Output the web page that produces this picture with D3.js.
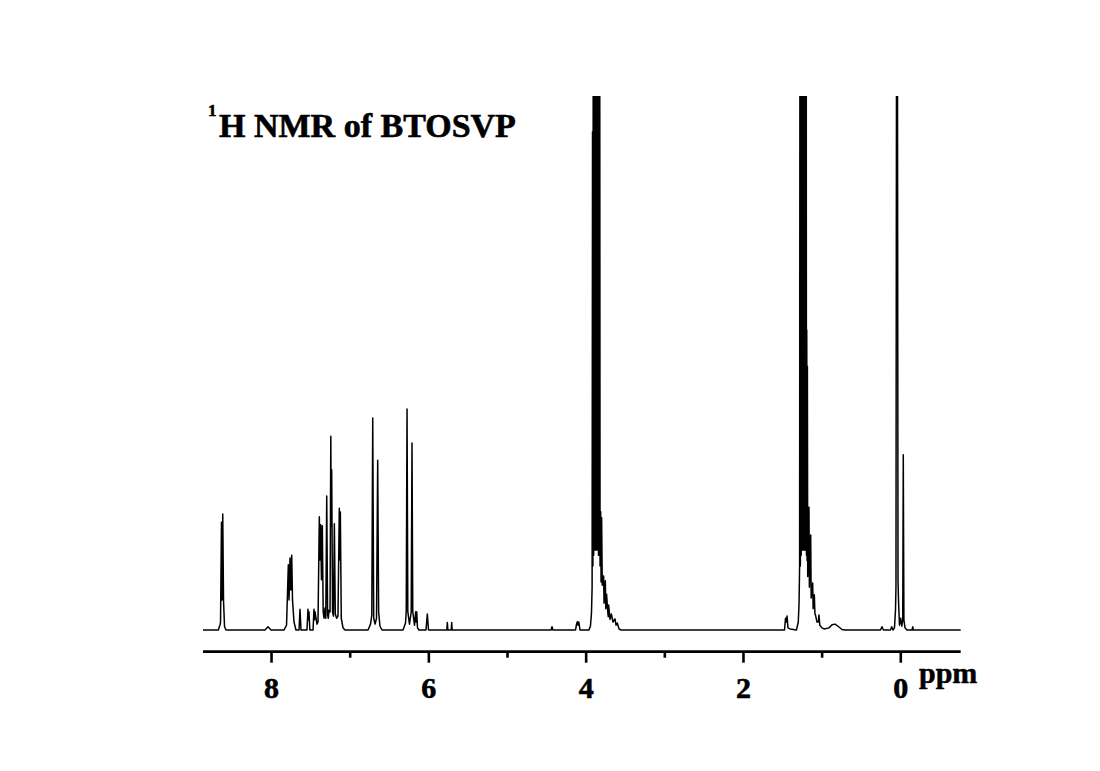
<!DOCTYPE html>
<html>
<head>
<meta charset="utf-8">
<script src="https://cdn.jsdelivr.net/npm/d3@7"></script>
<style>
  html, body { margin: 0; padding: 0; background: #ffffff; }
  svg { display: block; }
  text { font-family: "Liberation Serif", "Times New Roman", serif; font-weight: bold; fill: #000; }
</style>
</head>
<body>
<svg id="chart" width="1100" height="771"></svg>
<script>
// 1H NMR trace of BTOSVP: chemical shift (ppm) and relative intensity
// (percent of the plotted height; values above 100 run off the top).
const shift = [
  8.865, 8.670, 8.646, 8.642, 8.630, 8.623, 8.614, 8.604, 8.591, 8.572,
  8.077, 8.039, 8.000,
  7.835, 7.803, 7.780, 7.771, 7.759, 7.749, 7.737, 7.727, 7.708, 7.683,
  7.644, 7.632, 7.619,
  7.543, 7.530, 7.524, 7.518, 7.506,
  7.466, 7.454, 7.448, 7.441, 7.416,
  7.403, 7.386, 7.378, 7.369, 7.359, 7.348, 7.337, 7.326, 7.314, 7.304,
  7.292, 7.281, 7.272, 7.263, 7.250, 7.240, 7.235, 7.229, 7.218, 7.206,
  7.195, 7.183, 7.166, 7.149, 7.132, 7.126, 7.119, 7.107, 7.085, 7.060,
  6.767, 6.735, 6.719, 6.707, 6.695, 6.677, 6.659, 6.644, 6.632, 6.615, 6.589,
  6.322, 6.290, 6.281, 6.271, 6.261, 6.240, 6.218, 6.208, 6.198, 6.176,
  6.161, 6.154, 6.148, 6.138, 6.119,
  6.030, 6.013, 5.998,
  5.765, 5.759, 5.752, 5.709, 5.703, 5.697,
  4.440, 4.428, 4.416,
  4.129, 4.116, 4.106, 4.097, 4.087, 4.072,
  // OCH2 multiplet
  3.958, 3.939, 3.926, 3.918, 3.913, 3.908, 3.903, 3.898, 3.893, 3.888,
  3.883, 3.878, 3.872, 3.867, 3.862, 3.857, 3.852, 3.847, 3.842, 3.837,
  3.832, 3.827, 3.822, 3.817, 3.809, 3.804, 3.797, 3.789, 3.772, 3.766,
  3.762, 3.750, 3.744, 3.738, 3.734, 3.719, 3.713, 3.708, 3.697, 3.690,
  3.684, 3.674, 3.652, 3.627, 3.614, 3.598, 3.576, 3.551,
  1.472, 1.459, 1.451, 1.440, 1.428, 1.402,
  // CH3 multiplet
  1.320, 1.297, 1.287, 1.280, 1.275, 1.270, 1.265, 1.260, 1.255, 1.250,
  1.245, 1.240, 1.234, 1.229, 1.224, 1.219, 1.214, 1.209, 1.204, 1.200,
  1.196, 1.193, 1.189, 1.185, 1.181, 1.177, 1.161, 1.156, 1.139, 1.133,
  1.114, 1.108, 1.093, 1.085, 1.078, 1.059, 1.042, 1.034, 1.023, 0.995,
  0.970, 0.906, 0.868, 0.830, 0.792, 0.741, 0.700,
  0.252, 0.233, 0.214, 0.125, 0.109, 0.093,
  // TMS
  0.074, 0.061, 0.055, 0.046, 0.038, 0.029, 0.022, 0.010, -0.005, -0.019,
  -0.031, -0.038, -0.046, -0.060, -0.085,
  -0.149, -0.158, -0.167, -0.768
];
const intensity = [
  0, 0, 1.1, 1.5, 20.2, 5.6, 21.7, 5.4, 0.6, 0,
  0, 0.6, 0,
  0, 0.9, 12.2, 5.6, 13.5, 7.5, 14.0, 5.6, 1.5, 0,
  0, 3.9, 0,
  0, 3.9, 1.9, 3.4, 0,
  0, 3.9, 1.9, 3.4, 1.1,
  1.5, 21.2, 13.1, 19.7, 9.4, 19.5, 3.4, 2.2, 4.1, 2.2,
  25.1, 2.8, 2.2, 3.7, 3.4, 36.3, 19.5, 30.0, 3.4, 2.6,
  19.9, 3.0, 2.2, 2.6, 22.8, 13.1, 22.1, 2.2, 0.4, 0,
  0, 1.1, 2.8, 39.7, 2.2, 1.1, 2.2, 31.8, 3.4, 0.7, 0,
  0, 1.3, 3.7, 41.4, 3.4, 1.1, 3.4, 35.0, 3.4, 0.9,
  3.4, 1.5, 3.4, 0.4, 0,
  0, 3.0, 0,
  0, 1.4, 0, 0, 1.4, 0,
  0, 0.6, 0,
  0, 1.1, 1.55, 0.9, 1.5, 0,
  0, 0.75, 3.2, 8, 93.3, 12, 140, 14, 140, 15,
  140, 15, 140, 15, 140, 15, 140, 15, 140, 14,
  140, 14, 140, 12, 22.2, 9, 21, 8.4, 10.1, 5,
  6.0, 9.2, 4, 4.9, 6.7, 3.4, 2.5, 4.7, 3.0, 2.0,
  2.4, 3.0, 1.5, 2.1, 0.9, 1.3, 0.2, 0,
  0, 2.2, 1.5, 2.6, 0.4, 0.2,
  0, 1.5, 5, 12, 140, 12, 140, 14, 140, 15,
  140, 15, 140, 15, 140, 15, 140, 15, 140, 15,
  140, 14, 56.2, 13, 49.4, 10, 23.0, 8, 17.8, 6,
  8.8, 4, 6.6, 3, 2.8, 1.5, 1.5, 2.8, 0.9, 0.4,
  0.2, 0.4, 1.0, 1.1, 0.7, 0.1, 0,
  0, 0.6, 0, 0, 0.6, 0,
  0.4, 3.7, 8.1, 140, 140, 9.4, 5.2, 0.9, 2.2, 0.7,
  1.9, 32.8, 1.9, 0.4, 0,
  0, 0.6, 0, 0
];

// axis settings
const shiftRange = [8.865, -0.768];
const majorTicks = [8, 6, 4, 2, 0];
const minorTicks = [7, 5, 3, 1];
const axisUnit = "ppm";
const titleSup = "1";
const titleMain = "H NMR of BTOSVP";

const svg = d3.select("#chart");
const W = 1100, H = 771;
svg.append("rect").attr("width", W).attr("height", H).attr("fill", "#ffffff");

const plot = { left: 203, right: 960.7, top: 96, base: 630, axisY: 651.7 };

const x = d3.scaleLinear().domain(shiftRange).range([plot.left, plot.right]);
const y = d3.scaleLinear().domain([0, 100]).range([plot.base, plot.top]);

// clip tall lines at the top of the frame
svg.append("clipPath").attr("id", "frame")
  .append("rect")
  .attr("x", plot.left - 2).attr("y", plot.top)
  .attr("width", plot.right - plot.left + 4).attr("height", plot.base - plot.top + 10);

const trace = shift.map((s, i) => [s, intensity[i]]);
const line = d3.line().x(d => x(d[0])).y(d => y(d[1]));

svg.append("path")
  .datum(trace)
  .attr("clip-path", "url(#frame)")
  .attr("d", line)
  .attr("fill", "none")
  .attr("stroke", "#000")
  .attr("stroke-width", 1.5)
  .attr("stroke-linejoin", "round");

// bottom axis: major ticks with labels, minor ticks without
const axisG = svg.append("g").attr("transform", `translate(0,${plot.axisY})`);
axisG.call(d3.axisBottom(x).tickValues(majorTicks).tickSize(11).tickPadding(14).tickFormat(d3.format("d")));
axisG.select(".domain").remove();
axisG.selectAll(".tick line").attr("stroke", "#000").attr("stroke-width", 2.6);
axisG.selectAll(".tick text")
  .attr("font-size", 30)
  .attr("font-family", "'Liberation Serif', 'Times New Roman', serif")
  .attr("font-weight", "bold")
  .attr("fill", "#000")
  .attr("stroke", "#000")
  .attr("stroke-width", 0.6);

const minorG = svg.append("g").attr("transform", `translate(0,${plot.axisY})`);
minorG.call(d3.axisBottom(x).tickValues(minorTicks).tickSize(6).tickFormat(""));
minorG.select(".domain").remove();
minorG.selectAll(".tick line").attr("stroke", "#000").attr("stroke-width", 2.6);

svg.append("line")
  .attr("x1", plot.left).attr("x2", plot.right)
  .attr("y1", plot.axisY).attr("y2", plot.axisY)
  .attr("stroke", "#000").attr("stroke-width", 2.8);

svg.append("text")
  .attr("x", 919).attr("y", 683)
  .attr("font-size", 30)
  .attr("stroke", "#000").attr("stroke-width", 0.5)
  .text(axisUnit);

// title
const title = svg.append("text").attr("x", 208).attr("y", 137)
  .attr("stroke", "#000").attr("stroke-width", 0.6);
title.append("tspan").attr("font-size", 17).attr("dy", -21).text(titleSup);
title.append("tspan").attr("font-size", 34).attr("x", 219).attr("dy", 21).text(titleMain);
</script>
</body>
</html>
